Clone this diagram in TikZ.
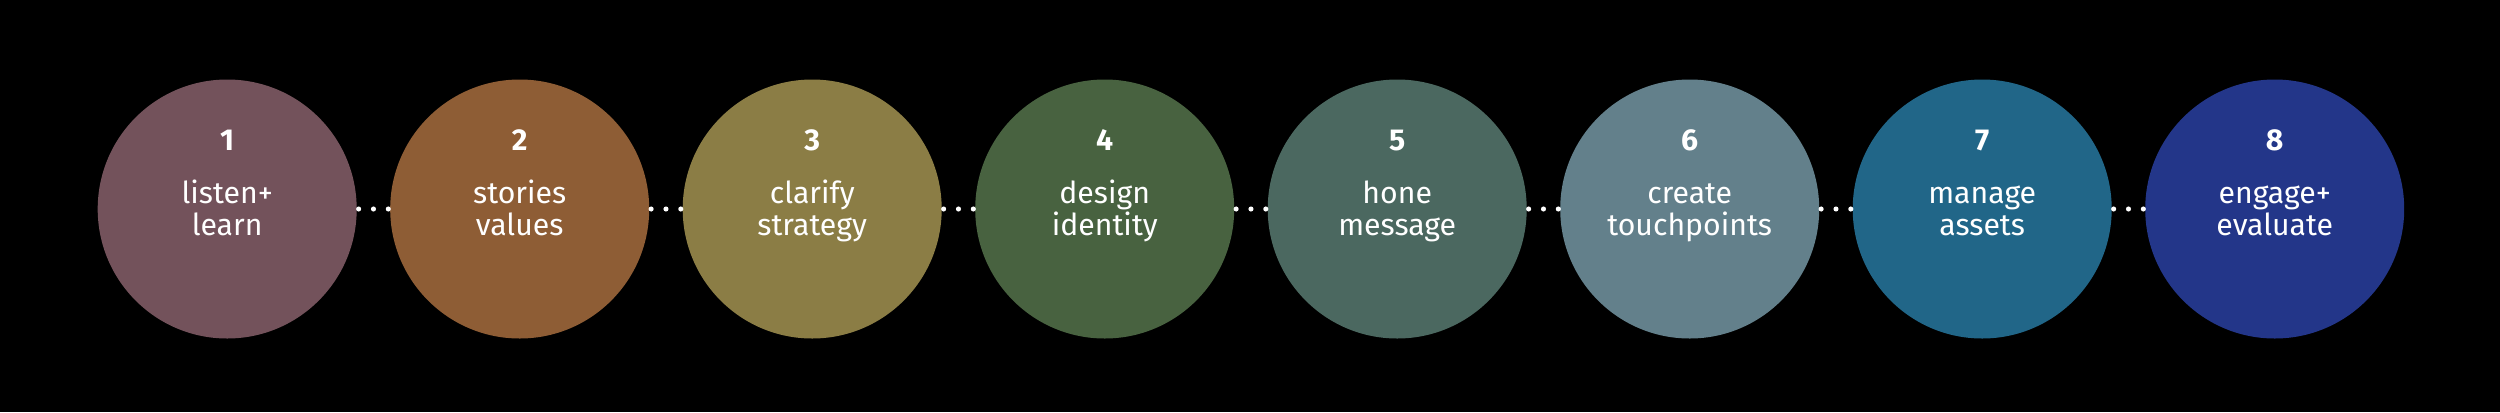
\documentclass[tikz,border=0pt]{standalone}
\usepackage{fontspec}
\setmainfont{Fira Sans}
\usepackage{tikz}
\usetikzlibrary{positioning}
\tikzstyle{stage} = [circle,draw=none,minimum size=2.59cm,inner sep=0pt,outer sep=0pt]
\tikzstyle{num} = [anchor=base,inner sep=0pt,text=white,font=\fontsize{8.6pt}{9.2pt}\selectfont\bfseries]
\tikzstyle{lbl} = [anchor=base,inner sep=0pt,align=center,text=white,font=\fontsize{8.6pt}{9.2pt}\selectfont]
\tikzstyle{link} = [white,line width=1.45pt,line cap=round,dash pattern=on 0pt off 4.22pt,shorten <=0.55pt]

\begin{document}
\begin{tikzpicture}
\definecolor{mauve}{RGB}{115,82,91}
\definecolor{rust}{RGB}{142,93,53}
\definecolor{olive}{RGB}{139,125,69}
\definecolor{moss}{RGB}{72,98,64}
\definecolor{sage}{RGB}{75,104,96}
\definecolor{slate}{RGB}{99,128,139}
\definecolor{teal}{RGB}{33,102,136}
\definecolor{navy}{RGB}{35,54,137}

\fill[black] (0,0) rectangle (25,4.12);
\useasboundingbox (0,0) rectangle (25,4.12);

% the eight stages
\node[stage,fill=mauve] (c_1) at (2.272,2.03) {};
\node[stage,fill=rust,right=0.335cm of c_1] (c_2) {};
\node[stage,fill=olive,right=0.335cm of c_2] (c_3) {};
\node[stage,fill=moss,right=0.335cm of c_3] (c_4) {};
\node[stage,fill=sage,right=0.335cm of c_4] (c_5) {};
\node[stage,fill=slate,right=0.335cm of c_5] (c_6) {};
\node[stage,fill=teal,right=0.335cm of c_6] (c_7) {};
\node[stage,fill=navy,right=0.335cm of c_7] (c_8) {};

% numbers
\node[num] (n_1) at ([yshift=0.59cm]c_1.center) {1};
\node[num] (n_2) at ([yshift=0.59cm]c_2.center) {2};
\node[num] (n_3) at ([yshift=0.59cm]c_3.center) {3};
\node[num] (n_4) at ([yshift=0.59cm]c_4.center) {4};
\node[num] (n_5) at ([yshift=0.59cm]c_5.center) {5};
\node[num] (n_6) at ([yshift=0.59cm]c_6.center) {6};
\node[num] (n_7) at ([yshift=0.59cm]c_7.center) {7};
\node[num] (n_8) at ([yshift=0.59cm]c_8.center) {8};

% labels (base = last line)
\node[lbl] (t_1) at ([yshift=-0.267cm]c_1.center) {listen+\\learn};
\node[lbl] (t_2) at ([yshift=-0.267cm]c_2.center) {stories\\values};
\node[lbl] (t_3) at ([yshift=-0.267cm]c_3.center) {clarify\\strategy};
\node[lbl] (t_4) at ([yshift=-0.267cm]c_4.center) {design\\identity};
\node[lbl] (t_5) at ([yshift=-0.267cm]c_5.center) {hone\\message};
\node[lbl] (t_6) at ([yshift=-0.267cm]c_6.center) {create\\touchpoints};
\node[lbl] (t_7) at ([yshift=-0.267cm]c_7.center) {manage\\assets};
\node[lbl] (t_8) at ([yshift=-0.267cm]c_8.center) {engage+\\evaluate};

% dotted links
\draw[link] (c_1) -- (c_2);
\draw[link] (c_2) -- (c_3);
\draw[link] (c_3) -- (c_4);
\draw[link] (c_4) -- (c_5);
\draw[link] (c_5) -- (c_6);
\draw[link] (c_6) -- (c_7);
\draw[link] (c_7) -- (c_8);

\end{tikzpicture}
\end{document}
